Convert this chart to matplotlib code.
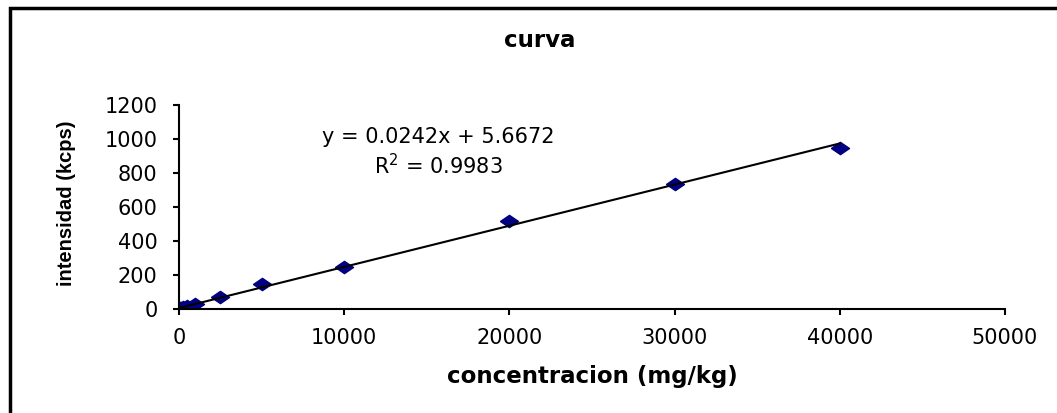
import matplotlib.pyplot as plt
from matplotlib.patches import Rectangle

# calibration standards
concentracion = [0, 50, 100, 250, 500, 1000, 2500, 5000, 10000, 20000, 30000, 40000]
intensidad = [2, 5, 8, 10, 15, 30, 70, 145, 245, 518, 737, 947]

# linear trendline
slope = 0.0242
intercept = 5.6672
r2 = 0.9983

plt.rcParams['font.family'] = ['DejaVu Sans']

fig = plt.figure(figsize=(10.57, 4.13), dpi=100)
ax = fig.add_axes([0.1693, 0.2518, 0.7814, 0.494])

# wide diamond marker
diamond = [(-1.0, 0.0), (0.0, 0.68), (1.0, 0.0), (0.0, -0.68), (-1.0, 0.0)]

xfit = [min(concentracion), max(concentracion)]
yfit = [slope * v + intercept for v in xfit]
ax.plot(concentracion, intensidad, linestyle='none', marker=diamond, color='#000080',
        markersize=13, zorder=2)
ax.plot(xfit, yfit, color='black', linewidth=1.5, zorder=3)

ax.set_xlim(0, 50000)
ax.set_ylim(0, 1200)
ax.set_xticks(range(0, 50001, 10000))
ax.set_yticks(range(0, 1201, 200))
ax.spines['top'].set_visible(False)
ax.spines['right'].set_visible(False)
ax.spines['left'].set_linewidth(1.5)
ax.spines['bottom'].set_linewidth(1.5)
ax.tick_params(direction='out', length=4.5, width=1.5, labelsize=15)
ax.tick_params(axis='x', pad=9)
ax.tick_params(axis='y', pad=11)

ax.set_xlabel('concentracion (mg/kg)', fontsize=16.5, fontweight='bold', va='center')
ax.xaxis.set_label_coords(0.5, -0.33)
ax.set_ylabel('intensidad (kcps)', fontsize=14.5, fontweight='bold', va='center',
              family=['Liberation Sans'])
ax.yaxis.set_label_coords(-0.136, 0.517)

fig.text(0.511, 0.903, 'curva', ha='center', va='center', fontsize=16.5, fontweight='bold')

ax.text(0.3136, 0.767, f'y = {slope}x + {intercept}\nR$^2$ = {r2}', transform=ax.transAxes,
        ha='center', va='center', fontsize=15, linespacing=1.3,
        math_fontfamily='dejavusans')

# chart area border
fig.patches.append(Rectangle((0.009, -0.1), 1.2, 1.08, transform=fig.transFigure,
                             fill=False, edgecolor='black', linewidth=2.5))

fig.savefig('out.png', dpi=100)
